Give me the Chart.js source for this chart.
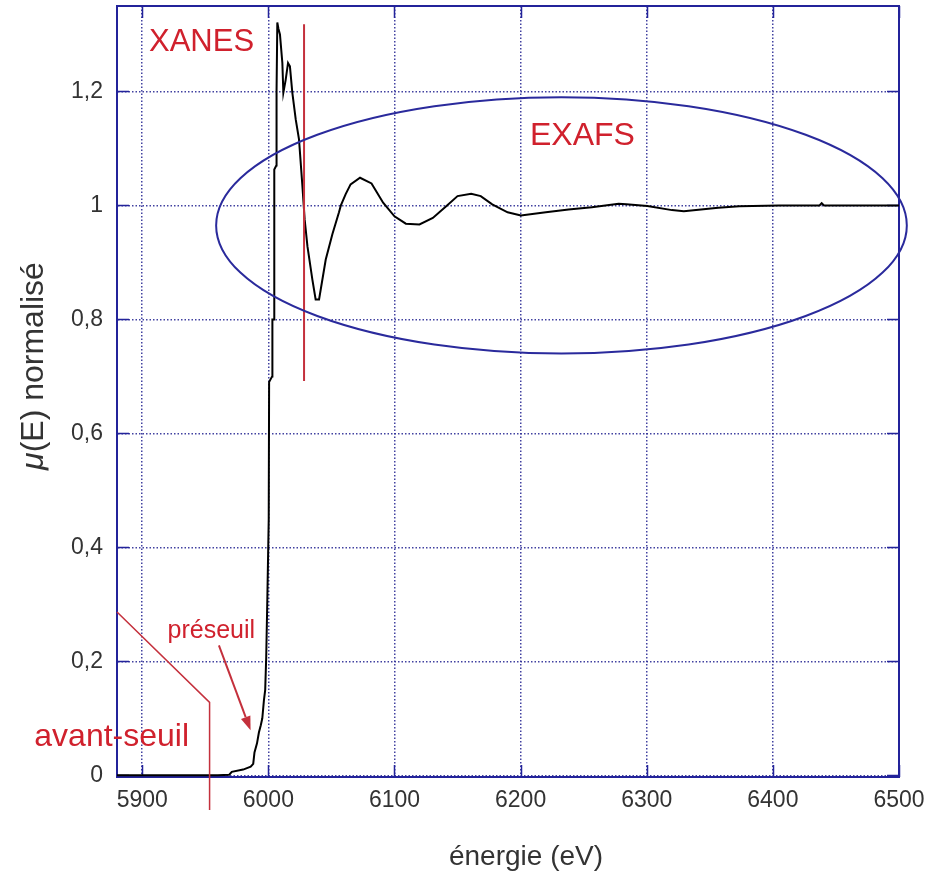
<!DOCTYPE html>
<html>
<head>
<meta charset="utf-8">
<script src="https://cdn.jsdelivr.net/npm/chart.js@4.4.1/dist/chart.umd.min.js"></script>
<style>
html,body{margin:0;padding:0;background:#fff;}
#wrap{width:931px;height:877px;position:relative;}
canvas{display:block;}
</style>
</head>
<body>
<div id="wrap"><canvas id="c" width="931" height="877"></canvas></div>
<script>
// ---------- data ----------
const energy = [
  5880, 5900, 5920, 5940, 5960, 5969, 5971, 5980, 5986, 5988,
  5989, 5991, 5992.5, 5994, 5995.2, 5996.5, 5997.5, 5998.3, 5999.2, 6000.3,
  6000.6, 6003, 6003.2, 6004.5, 6004.7, 6006.3, 6006.5, 6007.1, 6008, 6009.2,
  6011.1, 6011.9, 6013.7, 6015.6, 6017.1, 6019, 6021.7, 6024.3, 6027, 6028.8,
  6031, 6034.9, 6037.5, 6040.2, 6045.5, 6050.8, 6056, 6057.5, 6061.3, 6065.2,
  6072.7, 6081.8, 6091, 6100, 6109, 6119.8, 6130.4, 6141, 6150, 6160.8,
  6168.4, 6177.5, 6189.7, 6200.2, 6220, 6238, 6256.5, 6277.7, 6283.8, 6300.5,
  6320, 6329.4, 6356.7, 6373.4, 6405, 6437, 6438.7, 6440.5, 6500
];
const muNorm = [
  0.000, 0.000, 0.000, 0.000, 0.000, 0.001, 0.006, 0.010, 0.015, 0.020,
  0.040, 0.056, 0.075, 0.088, 0.100, 0.132, 0.150, 0.207, 0.310, 0.450,
  0.690, 0.700, 0.800, 0.800, 1.063, 1.070, 1.200, 1.321, 1.310, 1.300,
  1.250, 1.198, 1.220, 1.250, 1.244, 1.198, 1.151, 1.116, 1.034, 0.975,
  0.928, 0.870, 0.835, 0.835, 0.905, 0.950, 0.988, 1.000, 1.020, 1.037,
  1.0486, 1.0387, 1.0047, 0.981, 0.968, 0.9666, 0.978, 0.9988, 1.0164, 1.0205,
  1.0164, 1.0018, 0.988, 0.9824, 0.988, 0.993, 0.997, 1.003, 1.002, 0.999,
  0.9918, 0.990, 0.9959, 0.9988, 1.000, 1.000, 1.004, 1.000, 1.000
];
const xTickValues = [5900, 6000, 6100, 6200, 6300, 6400, 6500];
const xTickLabels = ['5900', '6000', '6100', '6200', '6300', '6400', '6500'];
const yTickValues = [0, 0.2, 0.4, 0.6, 0.8, 1, 1.2];
const yTickLabels = ['0', '0,2', '0,4', '0,6', '0,8', '1', '1,2'];
const xRange = [5880, 6500];
const yRange = [-0.003, 1.35];
const xTitle = 'énergie (eV)';
const yTitleSymbol = 'μ';
const yTitleRest = '(E) normalisé';

// ---------- annotations (in data coordinates) ----------
const labelXanes = {text: 'XANES', at: [5947, 1.286]};
const labelExafs = {text: 'EXAFS', at: [6249, 1.122]};
const labelPreseuil = {text: 'préseuil', at: [5954.8, 0.253]};
const labelAvantSeuil = {text: 'avant-seuil', at: [5875.8, 0.067]};
const arrowPreseuil = [[5960.8, 0.228], [5985.9, 0.079]];
const avantSeuilPath = [[5880, 0.2865], [5953.4, 0.128], [5953.4, -0.061]];
const xanesLimit = [[6028.3, 1.318], [6028.3, 0.692]];
const exafsEllipse = {cx: 6232.4, cy: 0.965, rx: 273.8, ry: 0.225};

// ---------- styles ----------
const FONT = '"Liberation Sans", Arial, Helvetica, sans-serif';
const axisColor = '#23239a';
const gridColor = 'rgba(45,45,150,0.9)';
const textGrey = '#333333';
const annRed = '#d0212d';
const lineRed = '#c4303c';

const decor = {
  id: 'decor',
  beforeDatasetsDraw(chart) {
    const {ctx, chartArea: a, scales: {x, y}} = chart;
    ctx.save();
    ctx.strokeStyle = axisColor;
    ctx.lineWidth = 2;
    ctx.strokeRect(a.left, a.top, a.right - a.left, a.bottom - a.top);
    ctx.lineWidth = 1.5;
    ctx.beginPath();
    yTickValues.forEach(v => {
      const py = Math.round(y.getPixelForValue(v)) + 0.5;
      ctx.moveTo(a.left, py); ctx.lineTo(a.left + 12, py);
      ctx.moveTo(a.right, py); ctx.lineTo(a.right - 12, py);
    });
    xTickValues.forEach(v => {
      const px = Math.round(x.getPixelForValue(v)) + 0.5;
      ctx.moveTo(px, a.bottom); ctx.lineTo(px, a.bottom - 12);
      ctx.moveTo(px, a.top); ctx.lineTo(px, a.top + 12);
    });
    ctx.stroke();
    ctx.restore();
  },
  afterDatasetsDraw(chart) {
    const {ctx, scales: {x, y}} = chart;
    const P = p => [x.getPixelForValue(p[0]), y.getPixelForValue(p[1])];
    ctx.save();
    // XANES limit line
    ctx.strokeStyle = lineRed; ctx.lineWidth = 2;
    ctx.beginPath();
    let p0 = P(xanesLimit[0]), p1 = P(xanesLimit[1]);
    ctx.moveTo(p0[0], p0[1]); ctx.lineTo(p1[0], p1[1]); ctx.stroke();
    // avant-seuil path
    ctx.lineWidth = 1.5;
    ctx.beginPath();
    avantSeuilPath.forEach((pt, i) => { const q = P(pt); i ? ctx.lineTo(q[0], q[1]) : ctx.moveTo(q[0], q[1]); });
    ctx.stroke();
    // arrow
    p0 = P(arrowPreseuil[0]); p1 = P(arrowPreseuil[1]);
    const ang = Math.atan2(p1[1] - p0[1], p1[0] - p0[0]);
    const hl = 14, hw = 5;
    const bx = p1[0] - hl * Math.cos(ang), by = p1[1] - hl * Math.sin(ang);
    ctx.lineWidth = 2;
    ctx.beginPath(); ctx.moveTo(p0[0], p0[1]); ctx.lineTo(bx, by); ctx.stroke();
    ctx.fillStyle = lineRed;
    ctx.beginPath();
    ctx.moveTo(p1[0], p1[1]);
    ctx.lineTo(bx + hw * Math.sin(ang), by - hw * Math.cos(ang));
    ctx.lineTo(bx - hw * Math.sin(ang), by + hw * Math.cos(ang));
    ctx.closePath(); ctx.fill();
    // ellipse
    const c = P([exafsEllipse.cx, exafsEllipse.cy]);
    const rxp = x.getPixelForValue(exafsEllipse.cx + exafsEllipse.rx) - c[0];
    const ryp = c[1] - y.getPixelForValue(exafsEllipse.cy + exafsEllipse.ry);
    ctx.strokeStyle = '#2a2a9c'; ctx.lineWidth = 2;
    ctx.beginPath(); ctx.ellipse(c[0], c[1], rxp, ryp, 0, 0, Math.PI * 2); ctx.stroke();
    // labels
    ctx.fillStyle = annRed;
    ctx.textAlign = 'center'; ctx.textBaseline = 'middle';
    const drawLabel = (lab, size) => {
      const q = P(lab.at);
      ctx.font = size + 'px ' + FONT;
      ctx.fillText(lab.text, q[0], q[1]);
    };
    drawLabel(labelXanes, 31);
    drawLabel(labelExafs, 32);
    drawLabel(labelPreseuil, 25);
    drawLabel(labelAvantSeuil, 32);
    ctx.restore();
  },
  afterDraw(chart) {
    const {ctx} = chart;
    ctx.save();
    ctx.fillStyle = textGrey;
    ctx.textBaseline = 'middle';
    // x title
    ctx.font = '28px ' + FONT;
    ctx.textAlign = 'center';
    ctx.fillText(xTitle, 526, 857);
    // y title
    ctx.translate(34, 366);
    ctx.rotate(-Math.PI / 2);
    const size = 32;
    ctx.font = 'italic ' + size + 'px ' + FONT;
    const w1 = ctx.measureText(yTitleSymbol).width;
    ctx.font = size + 'px ' + FONT;
    const w2 = ctx.measureText(yTitleRest).width;
    const start = -(w1 + w2) / 2;
    ctx.textAlign = 'left';
    ctx.font = 'italic ' + size + 'px ' + FONT;
    ctx.fillText(yTitleSymbol, start, 0);
    ctx.font = size + 'px ' + FONT;
    ctx.fillText(yTitleRest, start + w1, 0);
    ctx.restore();
  }
};

new Chart(document.getElementById('c'), {
  type: 'line',
  data: {
    datasets: [{
      data: energy.map((e, i) => ({x: e, y: muNorm[i]})),
      borderColor: '#000000',
      borderWidth: 2,
      pointRadius: 0,
      tension: 0,
      fill: false
    }]
  },
  options: {
    responsive: false,
    devicePixelRatio: 1,
    animation: false,
    layout: {padding: {left: 0, top: 6, right: 32, bottom: 0}},
    plugins: {legend: {display: false}, tooltip: {enabled: false}},
    scales: {
      x: {
        type: 'linear', position: 'bottom',
        min: xRange[0], max: xRange[1],
        afterBuildTicks: s => { s.ticks = xTickValues.map(v => ({value: v})); },
        afterFit: s => { s.height = 100; s.paddingLeft = 0; s.paddingRight = 0; },
        ticks: {
          includeBounds: false, autoSkip: false, maxRotation: 0, padding: 10,
          color: textGrey, font: {family: FONT, size: 23},
          callback: (v, i) => xTickLabels[xTickValues.indexOf(v)] ?? ''
        },
        grid: {color: gridColor, lineWidth: 1.5, drawTicks: false},
        border: {display: true, color: axisColor, width: 2, dash: [1.5, 2]}
      },
      y: {
        type: 'linear', position: 'left',
        min: yRange[0], max: yRange[1],
        afterBuildTicks: s => { s.ticks = yTickValues.map(v => ({value: v})); },
        afterFit: s => { s.width = 117; s.paddingTop = 0; s.paddingBottom = 0; },
        ticks: {
          includeBounds: false, autoSkip: false, padding: 14,
          color: textGrey, font: {family: FONT, size: 23},
          callback: (v, i) => yTickLabels[yTickValues.indexOf(v)] ?? ''
        },
        grid: {color: gridColor, lineWidth: 1.5, drawTicks: false},
        border: {display: true, color: axisColor, width: 2, dash: [1.5, 2]}
      }
    }
  },
  plugins: [decor]
});
</script>
</body>
</html>
